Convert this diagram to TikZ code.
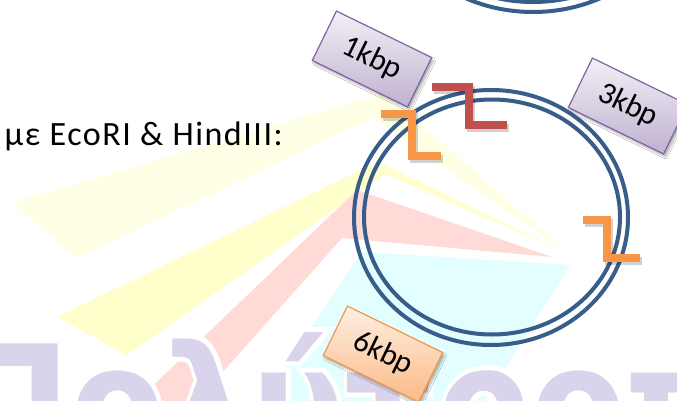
\documentclass[tikz,border=0pt]{standalone}
\usepackage{fontspec}
\setmainfont{Carlito}
\newfontfamily\spacedfont{Carlito}[LetterSpace=4.5]
\newfontfamily\logofont{DejaVu Sans Bold}
\newfontfamily\logorimfont{DejaVu Sans Bold}[FakeBold=6]
\usetikzlibrary{shadows.blur}

\definecolor{dnablue}{HTML}{385D8A}
\definecolor{cutred}{HTML}{C0504D}
\definecolor{cutorange}{HTML}{F79646}
\definecolor{lblpurple}{HTML}{8064A2}
\definecolor{raypale}{HTML}{FFFFE6}
\definecolor{rayyellow}{HTML}{FFFFCC}
\definecolor{raypink}{HTML}{FFDAD7}
\definecolor{raycyan}{HTML}{E2FEFE}
\definecolor{logolav}{HTML}{D9D3EC}

\newcommand\logoword{Πολύτροπο}

\begin{document}
\begin{tikzpicture}[x=1pt,y=-1pt,
    strand/.style={draw=dnablue, line width=4pt},
    cutsite/.style={line width=7.5pt},
    cutshadow/.style={line width=8pt, black, opacity=.18, xshift=2pt, yshift=-3pt},
    sizelabel/.style={draw, line width=1.2pt, rotate=-26, inner sep=0pt,
      minimum width=106pt, minimum height=55pt,
      font=\fontsize{31}{33}\selectfont,
      blur shadow={shadow xshift=2pt, shadow yshift=-3pt, shadow opacity=30}},
    purplebox/.style={sizelabel, draw=lblpurple, top color=lblpurple!10, bottom color=lblpurple!50},
    orangebox/.style={sizelabel, draw=cutorange, top color=cutorange!15, bottom color=cutorange!65},
    logotext/.style={anchor=base west, inner sep=0pt, xscale=.86, transform shape,
      font=\fontsize{160}{160}\selectfont}]
  \useasboundingbox (0,0) rectangle (677,401);
  \clip (0,0) rectangle (677,401);
  \fill[white] (0,0) rectangle (677,401);

  % background rays
  \fill[raypale]   (12,203) -- (385,93) -- (567,252) -- (372,118) -- (77,258) -- cycle;
  \fill[rayyellow] (57,317) -- (378,162) -- (560,250) -- (385,174) -- (127,355) -- cycle;
  \fill[raypink]   (137,401) -- (357,190) -- (552,257) -- (342,238) -- (197,401) -- cycle;
  \fill[raycyan]   (262,401) -- (362,252) -- (570,265) -- (485,401) -- cycle;

  % logo lettering, white rim underneath
  \node[logotext, text=logolav] (logo) at (-45,460)
    {\makebox[0pt][l]{\color{white}\logorimfont\logoword}\logofont\logoword};

  % plasmids
  \draw[strand] (533,-118) ellipse [x radius=150, y radius=130];
  \draw[strand] (533,-118) ellipse [x radius=141, y radius=120];
  \draw[strand] (491,217.5) ellipse [x radius=137, y radius=127.5];
  \draw[strand] (492,217) ellipse [x radius=128, y radius=117.5];

  % fragment sizes
  \node[purplebox] (frag1) at (372,59) {1kbp};
  \node[purplebox] (frag3) at (628,106) {3kbp};
  \node[orangebox] (frag6) at (383,354) {6kbp};

  % cut sites
  \draw[cutshadow] (381,114) -- (412,114) -- (412,156) -- (441,156);
  \draw[cutsite, cutorange] (381,114) -- (412,114) -- (412,156) -- (441,156);
  \draw[cutshadow] (432,87) -- (469,87) -- (469,125) -- (507,125);
  \draw[cutsite, cutred] (432,87) -- (469,87) -- (469,125) -- (507,125);
  \draw[cutshadow] (583,220) -- (607,220) -- (607,258) -- (640,258);
  \draw[cutsite, cutorange] (583,220) -- (607,220) -- (607,258) -- (640,258);

  \node[anchor=base east, inner sep=0pt, font=\spacedfont\fontsize{34}{40}\selectfont] (digest)
    at (283,146) {με EcoRI \& HindIII:};
\end{tikzpicture}
\end{document}
